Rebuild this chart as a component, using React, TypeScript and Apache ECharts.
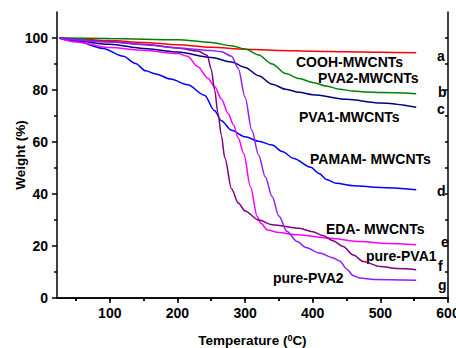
import React, { useEffect, useRef } from "react";
import * as echarts from "echarts";

// a — red
const redX = [25, 50, 100, 150, 200, 250, 300, 350, 400, 450, 500, 553];
const redY = [100, 99.7, 99, 98.3, 97.4, 96.4, 95.7, 95.2, 94.9, 94.7, 94.5, 94.3];
// b — green
const greenX = [25, 100, 200, 250, 280, 300, 320, 340, 360, 380, 400, 420, 440, 460, 480, 500, 553];
const greenY = [100, 99.8, 99.3, 98.3, 97, 95.8, 93.5, 90, 86.3, 84.4, 82.9, 81.5, 80.3, 79.6, 79.2, 79, 78.6];
// c — navy
const navyX = [25, 50, 100, 150, 200, 250, 280, 300, 320, 340, 360, 380, 400, 450, 500, 553];
const navyY = [100, 98.8, 97.6, 96, 94.6, 92.5, 90.8, 88.7, 85.5, 82.2, 80.3, 79.1, 78.2, 76.4, 75, 73.4];
// d — blue
const blueX = [25, 50, 90, 120, 138, 153, 168, 190, 215, 240, 255, 265, 280, 300, 320, 340, 355, 372, 397, 410, 420, 435, 460, 500, 553];
const blueY = [100, 98.8, 96, 93, 90.2, 87.4, 86.2, 84.2, 82, 78, 72, 68.2, 64.5, 62, 60.3, 58.8, 56.3, 53.7, 50.3, 47.8, 45.6, 44.1, 43.2, 42.5, 41.6];
// e — magenta
const magentaX = [25, 50, 100, 150, 200, 215, 230, 245, 255, 265, 275, 283, 290, 298, 308, 318, 323, 333, 350, 377, 426, 470, 510, 553];
const magentaY = [100, 98.5, 96.3, 95.3, 94, 93, 89, 84.5, 81.3, 76.5, 71, 66.5, 61.5, 55.6, 42.8, 31.3, 28.8, 26.2, 25.2, 24.3, 23, 21.7, 21, 20.5];
// f — purple
const purpleX = [25, 100, 150, 200, 230, 244, 250, 255, 260, 265, 270, 280, 290, 300, 320, 340, 380, 400, 415, 430, 445, 460, 475, 500, 525, 553];
const purpleY = [100, 98.6, 97.6, 96.2, 95, 93.4, 88, 80, 71, 62.5, 54, 42, 36.5, 33.5, 30, 28.2, 26.8, 25.5, 24, 22, 19.8, 16.5, 14, 12.1, 11.3, 10.9];
// g — violet
const violetX = [25, 100, 150, 200, 250, 265, 280, 290, 300, 310, 320, 330, 340, 350, 362, 377, 390, 410, 430, 440, 450, 460, 470, 490, 553];
const violetY = [100, 98.5, 97.4, 96.2, 95.2, 94.7, 93, 88.3, 77.2, 64.5, 55, 46.5, 39, 31.5, 25.6, 21.7, 19.4, 17.3, 15.5, 14.2, 11.2, 8.6, 7.7, 7.1, 6.8];

const xMajorTicks = [100, 200, 300, 400, 500, 600];
const xMinorTicks = [50, 150, 250, 350, 450, 550];
const xTopTicks = [50, 100, 150, 200, 250, 300, 350, 400, 450, 500, 550, 600];
const yMajorTicks = [0, 20, 40, 60, 80, 100];
const yMinorTicks = [10, 30, 50, 70, 90];
const yRightTicks = [10, 20, 30, 40, 50, 60, 70, 80, 90, 100];

const curveNames = ["a", "b", "c", "d", "e", "f", "g"];
const curveColors = ["#FF0000", "#008000", "#000080", "#0000FF", "#FF00FF", "#800080", "#8F1FFF"];

const FONT = "Arial, 'Liberation Sans', sans-serif";

const pairs = (xs: number[], ys: number[]) => xs.map((x, i) => [x, ys[i]]);

export default function App() {
  const ref = useRef<HTMLDivElement>(null);
  useEffect(() => {
    if (!ref.current) return;
    const chart = echarts.init(ref.current, null, { renderer: "svg" });
    const seriesData = [
      pairs(redX, redY),
      pairs(greenX, greenY),
      pairs(navyX, navyY),
      pairs(blueX, blueY),
      pairs(magentaX, magentaY),
      pairs(purpleX, purpleY),
      pairs(violetX, violetY),
    ];
    const black = { color: "#000", width: 1.5 };
    const txt = (text: string, x: number, y: number) => ({
      type: "text",
      x,
      y,
      style: {
        text,
        fill: "#000",
        font: `bold 14px ${FONT}`,
        align: "left",
        verticalAlign: "middle",
      },
    });
    const option: any = {
      animation: false,
      grid: { left: 57, right: 8, top: 12, bottom: 50, containLabel: false, outerBoundsMode: "none" },
      xAxis: [
        {
          type: "value",
          min: 22,
          max: 600,
          position: "bottom",
          axisLine: { lineStyle: black },
          axisTick: { customValues: xMajorTicks, length: 5, lineStyle: black },
          axisLabel: {
            customValues: xMajorTicks,
            color: "#000",
            fontWeight: "bold",
            fontSize: 14,
            fontFamily: FONT,
            margin: 8,
          },
          splitLine: { show: false },
          name: "Temperature ({sup|0}C)",
          nameLocation: "middle",
          nameGap: 35,
          nameMoveOverlap: false,
          nameTextStyle: {
            color: "#000",
            fontWeight: "bold",
            fontSize: 13.5,
            fontFamily: FONT,
            rich: {
              sup: {
                fontSize: 9,
                fontWeight: "bold",
                fontFamily: FONT,
                color: "#000",
                verticalAlign: "top",
              },
            },
          },
        },
        {
          type: "value",
          min: 22,
          max: 600,
          position: "bottom",
          axisLine: { show: false },
          axisTick: { customValues: xMinorTicks, length: 3, lineStyle: black },
          axisLabel: { show: false },
          splitLine: { show: false },
        },
        {
          type: "value",
          min: 22,
          max: 600,
          position: "top",
          axisLine: { lineStyle: black },
          axisTick: { customValues: xTopTicks, length: 3, inside: true, lineStyle: black },
          axisLabel: { show: false },
          splitLine: { show: false },
        },
      ],
      yAxis: [
        {
          type: "value",
          min: 0,
          max: 110,
          position: "left",
          axisLine: { show: true, lineStyle: black },
          axisTick: { show: true, customValues: yMajorTicks, length: 5, lineStyle: black },
          axisLabel: {
            customValues: yMajorTicks,
            color: "#000",
            fontWeight: "bold",
            fontSize: 14,
            fontFamily: FONT,
            margin: 9,
          },
          splitLine: { show: false },
          name: "Weight (%)",
          nameLocation: "middle",
          nameGap: 30,
          nameMoveOverlap: false,
          nameTextStyle: { color: "#000", fontWeight: "bold", fontSize: 13.5, fontFamily: FONT },
        },
        {
          type: "value",
          min: 0,
          max: 110,
          position: "left",
          axisLine: { show: false },
          axisTick: { show: true, customValues: yMinorTicks, length: 3, lineStyle: black },
          axisLabel: { show: false },
          splitLine: { show: false },
        },
        {
          type: "value",
          min: 0,
          max: 110,
          position: "right",
          axisLine: { show: true, lineStyle: black },
          axisTick: { show: true, customValues: yRightTicks, length: 3, inside: true, lineStyle: black },
          axisLabel: { show: false },
          splitLine: { show: false },
        },
      ],
      series: seriesData.map((d, i) => ({
        name: curveNames[i],
        type: "line",
        data: d,
        xAxisIndex: 0,
        yAxisIndex: 0,
        showSymbol: false,
        smooth: 0.3,
        smoothMonotone: "x",
        lineStyle: { color: curveColors[i], width: 1.5 },
        itemStyle: { color: curveColors[i] },
        z: 3,
      })),
      graphic: [
        txt("COOH-MWCNTs", 296, 62),
        txt("PVA2-MWCNTs", 318, 78),
        txt("PVA1-MWCNTs", 299, 117),
        txt("PAMAM- MWCNTs", 310, 159),
        txt("EDA- MWCNTs", 326, 229),
        txt("pure-PVA1", 366, 256),
        txt("pure-PVA2", 273, 278),
        txt("a", 437, 56),
        txt("b", 438, 92),
        txt("c", 437, 109),
        txt("d", 437, 191),
        txt("e", 441, 242),
        txt("f", 438, 266),
        txt("g", 438, 285),
      ],
    };
    chart.setOption(option);
    return () => chart.dispose();
  }, []);
  return <div ref={ref} style={{ width: 456, height: 348, position: "absolute", left: 0, top: 0 }} />;
}
